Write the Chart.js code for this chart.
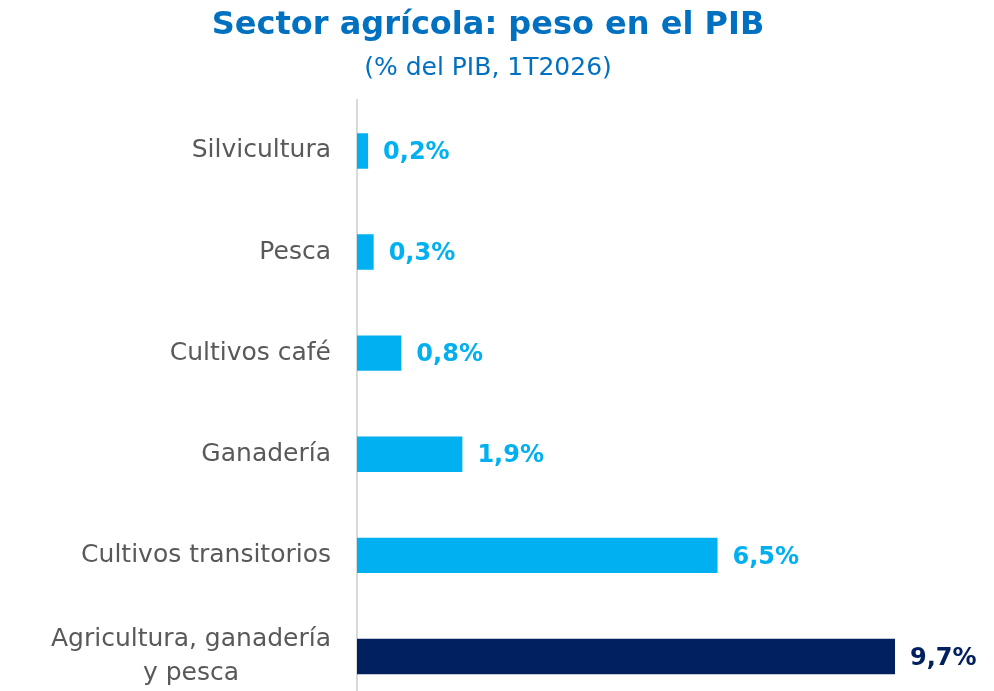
<!DOCTYPE html>
<html>
<head>
<meta charset="utf-8">
<script src="https://cdn.jsdelivr.net/npm/chart.js@4.4.1/dist/chart.umd.min.js"></script>
<style>
  html, body { margin: 0; padding: 0; background: #ffffff; overflow: hidden; }
  #wrap { position: relative; width: 994px; height: 720px; }
</style>
</head>
<body>
<div id="wrap"><canvas id="c" width="994" height="720"></canvas></div>
<script>
const categories = [
  ["Silvicultura"],
  ["Pesca"],
  ["Cultivos café"],
  ["Ganadería"],
  ["Cultivos transitorios"],
  ["Agricultura, ganadería", "y pesca"]
];
const values = [0.2, 0.3, 0.8, 1.9, 6.5, 9.7];
const valueLabels = ["0,2%", "0,3%", "0,8%", "1,9%", "6,5%", "9,7%"];
const barColors = ["#00B0F0", "#00B0F0", "#00B0F0", "#00B0F0", "#00B0F0", "#002060"];
const titleText = "Sector agrícola: peso en el PIB";
const subtitleText = "(% del PIB, 1T2026)";

const FONT = "'DejaVu Sans', sans-serif";

const labelPlugin = {
  id: 'customLabels',
  afterDatasetsDraw(chart) {
    const ctx = chart.ctx;
    const yScale = chart.scales.y;
    const meta = chart.getDatasetMeta(0);
    ctx.save();
    ctx.font = "25px " + FONT;
    ctx.fillStyle = "#595959";
    ctx.textBaseline = "middle";
    const rightX = chart.chartArea.left - 26;
    const lineH = 34;
    categories.forEach((lines, i) => {
      const yc = yScale.getPixelForValue(i);
      const widths = lines.map(l => ctx.measureText(l).width);
      const maxW = Math.max(...widths);
      const centerX = rightX - maxW / 2;
      lines.forEach((l, j) => {
        const y = yc + (j - (lines.length - 1) / 2) * lineH;
        ctx.textAlign = lines.length > 1 ? "center" : "right";
        ctx.fillText(l, lines.length > 1 ? centerX : rightX, y);
      });
    });
    ctx.font = "bold 24px " + FONT;
    ctx.textAlign = "left";
    meta.data.forEach((bar, i) => {
      ctx.fillStyle = barColors[i];
      ctx.fillText(valueLabels[i], bar.x + 15, bar.y + 2);
    });
    ctx.restore();
  }
};

new Chart(document.getElementById('c'), {
  type: 'bar',
  data: {
    labels: categories.map(c => c.join(" ")),
    datasets: [{
      data: values,
      backgroundColor: barColors,
      borderWidth: 0,
      barPercentage: 0.7,
      categoryPercentage: 0.5
    }]
  },
  options: {
    indexAxis: 'y',
    responsive: false,
    animation: false,
    devicePixelRatio: 1,
    layout: { padding: { left: 0, right: 18, top: 0, bottom: 13 } },
    plugins: {
      legend: { display: false },
      tooltip: { enabled: false },
      title: {
        display: true,
        text: titleText,
        color: "#0070C0",
        font: { family: FONT, size: 32, weight: 'bold', lineHeight: 1.2 },
        padding: { top: 6, bottom: 2 }
      },
      subtitle: {
        display: true,
        text: subtitleText,
        color: "#0070C0",
        font: { family: FONT, size: 25, weight: 'normal', lineHeight: 1.2 },
        padding: { top: 7, bottom: 17 }
      }
    },
    scales: {
      x: {
        display: false,
        min: 0,
        max: 11.16
      },
      y: {
        display: true,
        afterFit(scale) { scale.width = 357; },
        grid: { display: false, drawTicks: false },
        border: { display: true, color: "#D9D9D9", width: 2 },
        ticks: { display: false }
      }
    }
  },
  plugins: [labelPlugin]
});
</script>
</body>
</html>
